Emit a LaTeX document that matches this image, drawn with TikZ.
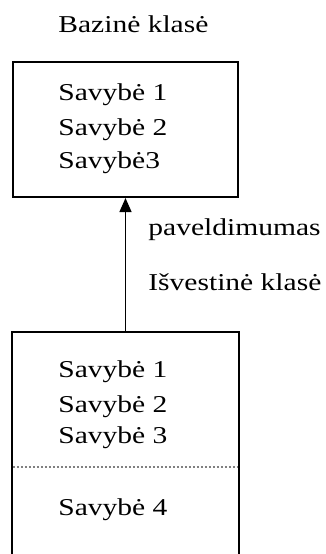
\documentclass[tikz,border=0pt]{standalone}
\usepackage{fontspec}
\setmainfont[FakeStretch=1.22]{Liberation Serif}
\usetikzlibrary{arrows.meta,positioning}

\tikzset{
    cls/.style={minimum width=112.5pt, inner sep=0pt, line width=1pt},
    prop/.style={anchor=base west, inner sep=0pt, font=\fontsize{12.1}{14}\selectfont},
    sep/.style={gray, line width=0.6pt, dash pattern=on 1pt off 1pt}
}

\begin{document}
\begin{tikzpicture}[x=0.5pt, y=-0.5pt]
    \useasboundingbox (0,0) rectangle (326,554);

    % Base class
    \node[prop] (basetitle) at (58,32) {Bazinė klasė};
    \node[cls, draw, minimum height=67.5pt] (base) at (125.5,129.5) {};
    \node[prop] (b1) at (58,100) {Savybė 1};
    \node[prop] (b2) at (58,135) {Savybė 2};
    \node[prop] (b3) at (58,168) {Savybė3};

    % Derived class (open at the bottom)
    \node[cls, minimum height=110.5pt] (derived) at (125.5,443.5) {};
    \draw[line width=1pt] (derived.south west) |- (derived.north east) -- (derived.south east);
    \node[prop] (d1) at (58,377) {Savybė 1};
    \node[prop] (d2) at (58,412) {Savybė 2};
    \node[prop] (d3) at (58,443) {Savybė 3};
    \coordinate (sepl) at (13,467);
    \coordinate (sepr) at (238,467);
    \draw[sep] (sepl) -- (sepr);
    \node[prop] (d4) at (58,515) {Savybė 4};

    % Inheritance arrow
    \draw[-{Triangle[width=6pt,length=7pt]}, line width=0.7pt] (derived.north) -- (base.south);
    \node[prop] (inh) at (148,235) {paveldimumas};
    \node[prop] (dertitle) at (148,290) {Išvestinė klasė};
\end{tikzpicture}
\end{document}
